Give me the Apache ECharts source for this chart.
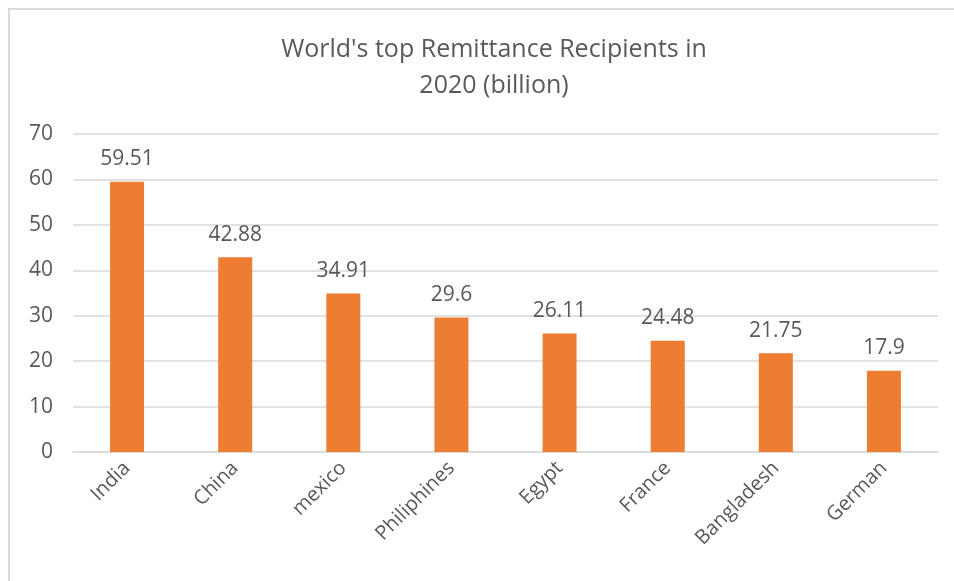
<!DOCTYPE html>
<html>
<head>
<meta charset="utf-8">
<style>
  html, body { margin: 0; padding: 0; background: #ffffff; }
  #chart { width: 954px; height: 581px; }
</style>
<script src="https://cdn.jsdelivr.net/npm/echarts@6/dist/echarts.min.js"></script>
</head>
<body>
<div id="chart"></div>
<script>
// Remittance inflows by recipient country, 2020, in billions
const countries = ['India', 'China', 'mexico', 'Philiphines', 'Egypt', 'France', 'Bangladesh', 'German'];
const remittances = [59.51, 42.88, 34.91, 29.6, 26.11, 24.48, 21.75, 17.9];
const yTicks = [0, 10, 20, 30, 40, 50, 60, 70];

const textColor = '#595959';
const gridColor = '#d9d9d9';
const fontFamily = '"Open Sans", "Noto Sans", sans-serif';

const chart = echarts.init(document.getElementById('chart'), null, { renderer: 'canvas' });

chart.setOption({
  backgroundColor: '#ffffff',
  animation: false,
  title: {
    text: "World's top Remittance Recipients in\n2020 (billion)",
    left: 489,
    top: 27,
    textAlign: 'center',
    textStyle: {
      color: textColor,
      fontFamily: fontFamily,
      fontSize: 25,
      fontWeight: 'normal',
      lineHeight: 36
    }
  },
  graphic: [{
    type: 'rect',
    shape: { x: 9, y: 9, width: 1200, height: 900 },
    style: { fill: 'none', stroke: gridColor, lineWidth: 2 },
    silent: true
  }],
  grid: { left: 73, right: 16, top: 134, bottom: 129 },
  xAxis: {
    type: 'category',
    data: countries,
    axisLine: { show: true, lineStyle: { color: gridColor, width: 1.5 } },
    axisTick: { show: false },
    axisLabel: {
      rotate: 45,
      margin: 13,
      color: textColor,
      fontFamily: fontFamily,
      fontSize: 20
    }
  },
  yAxis: {
    type: 'value',
    min: yTicks[0],
    max: yTicks[yTicks.length - 1],
    interval: 10,
    axisLine: { show: false },
    axisTick: { show: false },
    splitLine: { lineStyle: { color: gridColor, width: 1.5 } },
    axisLabel: {
      margin: 20,
      color: textColor,
      fontFamily: fontFamily,
      fontSize: 21
    }
  },
  series: [{
    type: 'bar',
    data: remittances,
    barWidth: 34,
    itemStyle: { color: '#ed7d31' },
    label: {
      show: true,
      position: 'top',
      distance: 12,
      color: textColor,
      fontFamily: fontFamily,
      fontSize: 21
    }
  }]
});
</script>
</body>
</html>
